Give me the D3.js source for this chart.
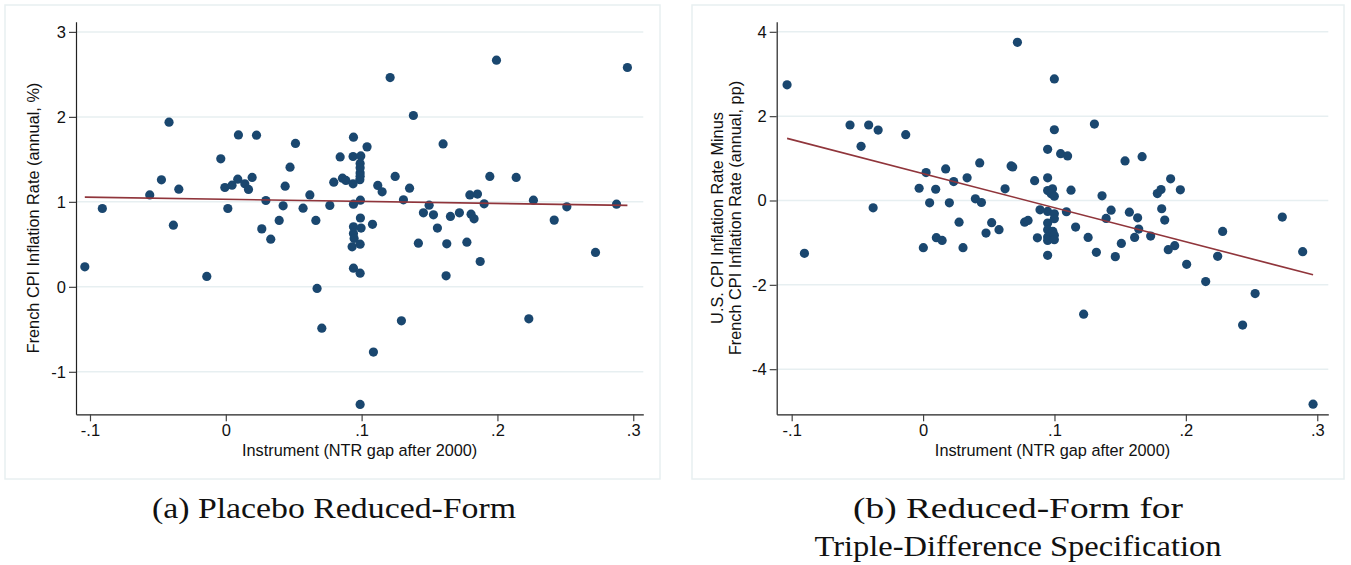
<!DOCTYPE html>
<html><head><meta charset="utf-8">
<script src="https://cdn.jsdelivr.net/npm/d3@7"></script>
<style>body{margin:0;background:#fff}svg{display:block}</style>
</head><body>
<svg id="c" width="1351" height="565"></svg>
<script>
// ---------- DATA ----------
const leftX = [-0.1038,-0.0909,-0.056,-0.0474,-0.0418,-0.0386,-0.0346,-0.014,-0.0037,-0.0007,0.0015,0.0046,0.0088,0.0093,0.014,0.0167,0.0194,0.0226,0.0265,0.0295,0.0331,0.0393,0.0422,0.0437,0.0473,0.0513,0.0569,0.0619,0.0663,0.0672,0.0707,0.0766,0.0795,0.0842,0.0859,0.0884,0.094,0.0937,0.0994,0.0989,0.0989,0.0987,0.0937,0.104,0.0991,0.094,0.0991,0.108,0.094,0.0996,0.094,0.0945,0.093,0.0989,0.094,0.0989,0.0989,0.1087,0.121,0.1247,0.1119,0.1151,0.1293,0.1308,0.1353,0.1381,0.1418,0.1455,0.1497,0.1529,0.1558,0.16,0.1622,0.1627,0.1654,0.172,0.1775,0.1797,0.1806,0.1828,0.1853,0.1873,0.1902,0.1944,0.1993,0.2138,0.2231,0.2265,0.2418,0.2511,0.2722,0.2877,0.2957,0.0989,0.0989];
const leftY = [0.235,0.922,1.082,1.259,1.938,0.726,1.149,0.122,1.506,1.169,0.922,1.196,1.267,1.788,1.212,1.146,1.287,1.785,0.682,1.016,0.561,0.781,0.953,1.185,1.408,1.687,0.926,1.082,0.781,-0.019,-0.486,0.958,1.232,1.529,1.279,1.252,1.761,1.534,1.541,1.452,1.341,1.26,1.212,1.647,1.02,0.973,0.81,0.736,0.706,0.692,0.628,0.569,0.471,0.502,0.22,0.161,-1.384,-0.768,2.463,1.299,1.193,1.118,-0.4,1.024,1.161,2.016,0.514,0.871,0.961,0.847,0.691,1.682,0.13,0.506,0.828,0.871,0.526,1.082,0.855,0.8,1.091,0.298,0.977,1.299,2.667,1.287,-0.376,1.02,0.785,0.941,0.405,0.973,2.581,1.40,1.30];
const rightX = [-0.1035,-0.0903,-0.0556,-0.0472,-0.0414,-0.038,-0.0342,-0.0132,-0.003,0.0002,0.0023,0.005,0.0096,0.0101,0.0145,0.0172,0.02,0.0233,0.0274,0.0304,0.0335,0.0398,0.0431,0.0444,0.0479,0.0522,0.0578,0.0624,0.067,0.0682,0.0718,0.0773,0.0799,0.0849,0.087,0.089,0.0948,0.0948,0.0948,0.0948,0.0948,0.0948,0.0948,0.0948,0.0948,0.0999,0.0999,0.0985,0.0975,0.0999,0.0999,0.0999,0.0988,0.0999,0.0999,0.1047,0.1091,0.11,0.1126,0.1161,0.1222,0.1256,0.1304,0.1319,0.1362,0.1393,0.1431,0.1463,0.1509,0.1537,0.157,0.161,0.1633,0.1641,0.1667,0.1732,0.1783,0.1811,0.1816,0.1839,0.1884,0.1915,0.1866,0.1958,0.2006,0.2151,0.2242,0.228,0.2432,0.2527,0.2734,0.2889,0.2968];
const rightY = [2.742,-1.253,1.79,1.284,1.79,-0.173,1.671,1.56,0.291,-1.118,0.662,-0.054,0.267,-0.882,-0.946,0.749,-0.054,0.449,-0.513,-1.118,0.537,0.04,0.891,-0.047,-0.773,-0.527,-0.693,0.276,0.82,0.797,3.752,-0.513,-0.473,0.47,-0.885,-0.22,1.213,0.537,0.236,-0.26,-0.536,-0.693,-0.867,-0.946,-1.3,2.884,1.678,0.276,0.158,0.102,-0.314,-0.433,-0.733,-0.827,-0.929,1.111,-0.267,1.057,0.244,-0.631,-2.695,-0.875,1.813,-1.229,0.111,-0.426,-0.229,-1.331,-1.017,0.938,-0.276,-0.875,-0.41,-0.678,1.04,-0.843,0.165,0.26,-0.196,-0.465,0.513,-1.071,-1.166,0.253,-1.513,-1.922,-1.324,-0.733,-2.955,-2.206,-0.394,-1.213,-4.83];
// fitted line: intercept, slope
const leftFit = [1.030, -0.243];
const rightFit = [0.637, -8.08];
const xTicks = [-0.1, 0, 0.1, 0.2, 0.3];
const xTickLabels = ["-.1", "0", ".1", ".2", ".3"];
const leftYTicks = [-1, 0, 1, 2, 3];
const leftYTickLabels = ["-1", "0", "1", "2", "3"];
const rightYTicks = [-4, -2, 0, 2, 4];
const rightYTickLabels = ["-4", "-2", "0", "2", "4"];
const leftXDomain = [-0.1103, 0.3074];
const leftYDomain = [-1.5, 3.12];
const rightXDomain = [-0.1114, 0.3084];
const rightYDomain = [-5.07, 4.24];
const xTitle = "Instrument (NTR gap after 2000)";
const leftYTitle = ["French CPI Inflation Rate (annual, %)"];
const rightYTitle = ["U.S. CPI Inflation Rate Minus", "French CPI Inflation Rate (annual, pp)"];
const leftCaption = ["(a) Placebo Reduced-Form"];
const rightCaption = ["(b) Reduced-Form for", "Triple-Difference Specification"];

// ---------- DRAW ----------
const svg = d3.select("#c");
const NAVY = "#1a476f", MAROON = "#90353b", GRID = "#e7eff1", BORDER = "#e8eff1";
const SANS = "'Liberation Sans', Arial, Helvetica, sans-serif";

function panel(o) {
  const g = svg.append("g");
  g.append("rect").attr("x", o.box[0]).attr("y", o.box[1]).attr("width", o.box[2]).attr("height", o.box[3])
    .attr("fill", "#fff").attr("stroke", BORDER).attr("stroke-width", 1.5);
  const x = d3.scaleLinear().domain(o.xDomain).range([o.px0, o.px1]);
  const y = d3.scaleLinear().domain(o.yDomain).range([o.py1, o.py0]);
  g.selectAll(".grid").data(o.yTicks).join("line")
    .attr("x1", o.px0).attr("x2", o.px1)
    .attr("y1", d => y(d)).attr("y2", d => y(d))
    .attr("stroke", GRID).attr("stroke-width", 1.5);
  const ya = g.append("g").attr("transform", `translate(${o.px0},0)`)
    .call(d3.axisLeft(y).tickValues(o.yTicks).tickSize(7).tickSizeOuter(0)
      .tickFormat((d, i) => o.yTickLabels[i]));
  const xa = g.append("g").attr("transform", `translate(0,${o.py1})`)
    .call(d3.axisBottom(x).tickValues(xTicks).tickSize(7).tickSizeOuter(0)
      .tickFormat((d, i) => xTickLabels[i]));
  [ya, xa].forEach(a => {
    a.select(".domain").attr("stroke", "#222").attr("stroke-width", 1.2);
    a.selectAll(".tick line").attr("stroke", "#444").attr("stroke-width", 1.2);
    a.selectAll("text").attr("font-family", SANS)
      .attr("font-size", 16.5).attr("fill", "#111");
  });
  ya.selectAll(".tick text").attr("x", -10);
  xa.selectAll(".tick text").attr("y", 10);
  g.selectAll(".pt").data(o.xs.map((v, i) => [v, o.ys[i]])).join("circle")
    .attr("cx", d => x(d[0])).attr("cy", d => y(d[1])).attr("r", 4.6).attr("fill", NAVY);
  const ex = d3.extent(o.xs);
  g.append("line").attr("x1", x(ex[0])).attr("x2", x(ex[1]))
    .attr("y1", y(o.fit[0] + o.fit[1] * ex[0])).attr("y2", y(o.fit[0] + o.fit[1] * ex[1]))
    .attr("stroke", MAROON).attr("stroke-width", 1.6);
  g.append("text").attr("x", (o.px0 + o.px1) / 2).attr("y", 456).attr("text-anchor", "middle")
    .attr("font-family", SANS).attr("font-size", 16.3).attr("fill", "#111")
    .text(xTitle);
  const cy = (o.py0 + o.py1) / 2;
  o.yTitle.forEach((t, i) => {
    const tx = o.yTitleX + i * 18;
    g.append("text").attr("transform", `translate(${tx},${cy}) rotate(-90)`)
      .attr("text-anchor", "middle").attr("font-family", SANS)
      .attr("font-size", 16.3).attr("fill", "#111").text(t);
  });
  o.caption.forEach((t, i) => {
    svg.append("text").attr("x", o.capX).attr("y", 518 + i * 38).attr("text-anchor", "middle")
      .attr("font-family", "'Liberation Serif', 'Times New Roman', serif").attr("font-size", 30)
      .attr("fill", "#111").attr("textLength", o.capW[i]).attr("lengthAdjust", "spacingAndGlyphs").text(t);
  });
}

panel({box: [5, 5, 655, 474], xDomain: leftXDomain, yDomain: leftYDomain,
  px0: 76, px1: 643.3, py0: 21.7, py1: 414.3,
  yTicks: leftYTicks, yTickLabels: leftYTickLabels, xs: leftX, ys: leftY, fit: leftFit,
  yTitle: leftYTitle, yTitleX: 39, caption: leftCaption, capX: 334, capW: [364]});
panel({box: [692, 5, 652, 474], xDomain: rightXDomain, yDomain: rightYDomain,
  px0: 776.7, px1: 1328.3, py0: 21.7, py1: 414.3,
  yTicks: rightYTicks, yTickLabels: rightYTickLabels, xs: rightX, ys: rightY, fit: rightFit,
  yTitle: rightYTitle, yTitleX: 723, caption: rightCaption, capX: 1018, capW: [330, 407]});
</script>
</body></html>
